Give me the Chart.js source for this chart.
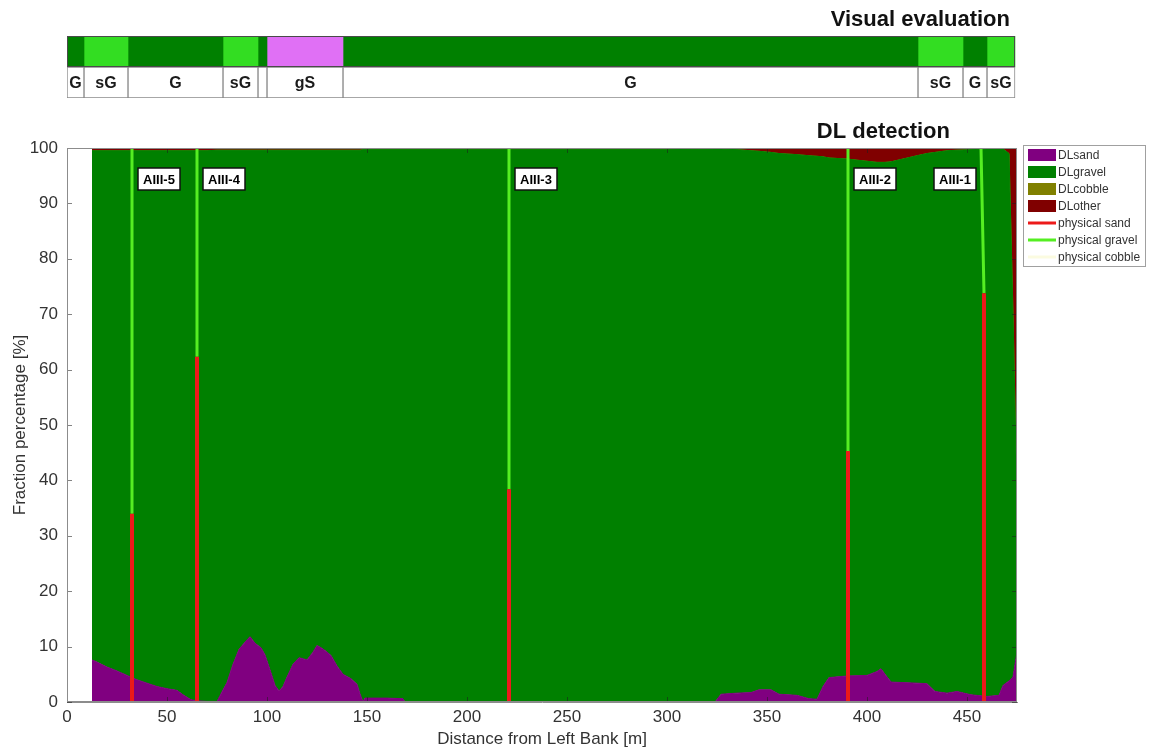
<!DOCTYPE html>
<html>
<head>
<meta charset="utf-8">
<title>Bed material classes across the section</title>
<script src="https://cdn.jsdelivr.net/npm/chart.js@4.4.0/dist/chart.umd.min.js"></script>
<style>
  html, body { margin: 0; padding: 0; background: #fff; }
  #wrap { position: relative; width: 1150px; height: 753px; }
  #visual { position: absolute; left: 0; top: 0; }
  #detect { position: absolute; left: 0; top: 105px; }
</style>
</head>
<body>
<div id="wrap">
  <canvas id="visual" width="1150" height="105"></canvas>
  <canvas id="detect" width="1150" height="648"></canvas>
</div>
<script>
/**
 * Visual classes along the section (top strip) and the
 * DL fractions with the physical samples (main plot)
 */

// visual evaluation, segment bounds in m from the left bank
var visStart = [0, 8.5, 30.5, 78, 95.5, 100, 138, 425.5, 448, 460];
var visEnd = [8.5, 30.5, 78, 95.5, 100, 138, 425.5, 448, 460, 474];
var visClass = ['G', 'sG', 'G', 'sG', 'G', 'gS', 'G', 'sG', 'G', 'sG'];

// DL detection along the section
var distance = [12.5, 15, 20, 25, 30, 35, 40, 45, 50, 55,
  58, 62, 66, 70, 75, 77, 80, 83, 86, 89,
  91.5, 94, 97, 99, 101.5, 104, 106, 108, 110, 113,
  116, 120, 123, 125, 127, 129, 132, 135, 138, 142,
  145, 146.5, 148, 149, 160, 168, 169, 200, 250, 300,
  324, 327, 335, 342, 346, 352, 356, 365, 371, 375,
  378, 381, 390, 400, 405, 407, 409, 412, 425, 430,
  434, 440, 445, 452, 460, 466, 468, 471, 473, 475];

var sandPct = [7.6, 7.2, 6.3, 5.6, 4.8, 4.0, 3.4, 2.8, 2.4, 2.1,
  1.3, 0.4, 0.2, 0.1, 0.1, 1.5, 3.5, 6.8, 9.5, 10.8,
  11.8, 10.6, 9.8, 8.5, 5.8, 3.0, 2.0, 2.8, 4.5, 6.8,
  8.0, 7.6, 9.0, 10.2, 9.8, 9.3, 8.4, 6.5, 5.0, 4.2,
  3.2, 1.5, 0, 0.7, 0.7, 0.6, 0, 0, 0, 0,
  0, 1.4, 1.6, 1.7, 2.2, 2.2, 1.4, 1.2, 0.6, 0.5,
  2.8, 4.4, 4.7, 4.8, 5.5, 6.0, 5.0, 3.6, 3.4, 3.3,
  1.9, 1.6, 1.9, 1.3, 1.0, 1.2, 3.0, 3.8, 4.5, 9.0];

var cobblePct = [0, 0, 0, 0, 0, 0, 0, 0, 0, 0,
  0, 0, 0, 0, 0, 0, 0, 0, 0, 0,
  0, 0, 0, 0, 0, 0, 0, 0, 0, 0,
  0, 0, 0, 0, 0, 0, 0, 0, 0, 0,
  0, 0, 0, 0, 0, 0, 0, 0, 0, 0,
  0, 0, 0, 0, 0, 0, 0, 0, 0, 0,
  0, 0, 0, 0, 0, 0, 0, 0, 0, 0,
  0, 0, 0, 0, 0, 0, 0, 0, 0, 0];

var otherPct = [0.5, 0.5, 0.5, 0.5, 0.5, 0.5, 0.5, 0.5, 0.5, 0.5,
  0.5, 0.5, 0.5, 0.5, 0.4, 0.4, 0.4, 0.4, 0.4, 0.4,
  0.4, 0.4, 0.4, 0.4, 0.4, 0.4, 0.4, 0.4, 0.4, 0.4,
  0.4, 0.4, 0.4, 0.4, 0.4, 0.4, 0.4, 0.4, 0.4, 0.4,
  0.4, 0.4, 0.3, 0.3, 0.3, 0.3, 0.3, 0.3, 0.3, 0.3,
  0.2, 0.2, 0.3, 0.5, 0.6, 0.8, 1.0, 1.2, 1.4, 1.5,
  1.6, 1.8, 2.0, 2.4, 2.6, 2.6, 2.6, 2.5, 1.4, 1.0,
  0.8, 0.5, 0.4, 0.3, 0.2, 0.2, 0.2, 1.0, 30, 64];

// gravel is whatever the other classes leave
var gravelPct = distance.map(function(d, i) {
  return 100 - sandPct[i] - cobblePct[i] - otherPct[i];
});

// physical samples
var siteNames = ['AIII-5', 'AIII-4', 'AIII-3', 'AIII-2', 'AIII-1'];
var siteX = [32.5, 65, 221, 390.5, 458.5];
var siteTopX = [32.5, 65, 221, 390.5, 457];
var physSand = [34, 62.3, 38.4, 45.3, 73.8];
var physGravel = [66, 37.7, 61.6, 54.7, 26.2];
var physCobble = [0, 0, 0, 0, 0];

var FONT = '"Liberation Sans", Arial, Helvetica, sans-serif';
Chart.defaults.font.family = FONT;
Chart.defaults.color = '#333';

var classColours = { 'G': '#008000', 'sG': '#33dd22', 'gS': '#e070f5' };

/* ---------- top strip ---------- */

var classText = {
  id: 'classText',
  afterDatasetsDraw: function(chart) {
    var ctx = chart.ctx;
    var a = chart.chartArea;
    var n = chart.data.datasets.length;
    ctx.save();

    // frame round the coloured row
    var first = chart.getDatasetMeta(0).data[0];
    var last = chart.getDatasetMeta(n - 1).data[0];
    ctx.strokeStyle = '#4a4a4a';
    ctx.lineWidth = 1;
    ctx.strokeRect(Math.round(first.base) + 0.5, Math.round(first.y - first.height / 2) + 0.5,
      Math.round(last.x - first.base) - 1, Math.round(first.height) - 1);

    ctx.font = 'bold 16px ' + FONT;
    ctx.fillStyle = '#1a1a1a';
    ctx.textAlign = 'center';
    ctx.textBaseline = 'middle';
    chart.data.datasets.forEach(function(ds, i) {
      var cell = chart.getDatasetMeta(i).data[1];
      var w = Math.abs(cell.x - cell.base);
      if (ctx.measureText(ds.label).width + 4 < w) {
        ctx.fillText(ds.label, (cell.x + cell.base) / 2, cell.y + 1);
      }
    });

    ctx.font = 'bold 22px ' + FONT;
    ctx.fillStyle = '#111';
    ctx.textAlign = 'right';
    ctx.fillText('Visual evaluation', a.right - 7, a.top - 16);
    ctx.restore();
  }
};

var visDatasets = visStart.map(function(s, i) {
  return {
    label: visClass[i],
    data: [[s, visEnd[i]], [s, visEnd[i]]],
    backgroundColor: [classColours[visClass[i]], '#ffffff'],
    borderColor: ['rgba(0,0,0,0)', '#8a8a8a'],
    borderWidth: [0, 1],
    borderSkipped: false,
    grouped: false,
    barPercentage: 1,
    categoryPercentage: 1
  };
});

new Chart(document.getElementById('visual'), {
  type: 'bar',
  data: { labels: ['colour', 'class'], datasets: visDatasets },
  options: {
    indexAxis: 'y',
    responsive: false,
    animation: false,
    events: [],
    layout: { padding: { left: 67, right: 133, top: 36, bottom: 7 } },
    plugins: { legend: { display: false }, tooltip: { enabled: false } },
    scales: {
      x: { type: 'linear', min: 0, max: 475, display: false },
      y: { type: 'category', display: false }
    }
  },
  plugins: [classText]
});

/* ---------- DL detection ---------- */

function pts(ys) {
  return distance.map(function(d, i) { return { x: d, y: ys[i] }; });
}

// one vertical stroke per sample site, broken with nulls
function siteLines(lower, upper, xLow, xHigh) {
  var out = [];
  siteNames.forEach(function(n, i) {
    out.push({ x: xLow[i], y: lower[i] });
    out.push({ x: xHigh[i], y: upper[i] });
    out.push({ x: xHigh[i], y: null });
  });
  return out;
}

var zeroAtSite = physSand.map(function() { return 0; });
var gravelTop = physSand.map(function(s, i) { return s + physGravel[i]; });
var cobbleTop = gravelTop.map(function(g, i) { return g + physCobble[i]; });

var boxTicks = {
  id: 'boxTicks',
  afterDatasetsDraw: function(chart) {
    var a = chart.chartArea, ctx = chart.ctx;
    var xs = chart.scales.x, ys = chart.scales.y;
    ctx.save();
    ctx.strokeStyle = 'rgba(30,30,30,0.55)';
    ctx.lineWidth = 1;
    ctx.beginPath();
    xs.ticks.forEach(function(t) {
      var px = Math.round(xs.getPixelForValue(t.value)) + 0.5;
      ctx.moveTo(px, a.bottom); ctx.lineTo(px, a.bottom - 5);
      ctx.moveTo(px, a.top); ctx.lineTo(px, a.top + 5);
    });
    ys.ticks.forEach(function(t) {
      var py = Math.round(ys.getPixelForValue(t.value)) + 0.5;
      ctx.moveTo(a.left, py); ctx.lineTo(a.left + 5, py);
      ctx.moveTo(a.right, py); ctx.lineTo(a.right - 5, py);
    });
    ctx.stroke();
    ctx.strokeStyle = '#8c8c8c';
    ctx.strokeRect(Math.round(a.left) + 0.5, Math.round(a.top) + 0.5,
      Math.round(a.width) - 1, Math.round(a.height) - 1);
    ctx.restore();
  }
};

var siteTags = {
  id: 'siteTags',
  afterDatasetsDraw: function(chart) {
    var a = chart.chartArea, ctx = chart.ctx, xs = chart.scales.x;
    ctx.save();
    ctx.font = 'bold 13px ' + FONT;
    ctx.textAlign = 'center';
    ctx.textBaseline = 'middle';
    siteNames.forEach(function(name, i) {
      var lx = xs.getPixelForValue(siteTopX[i]);
      var w = Math.round(ctx.measureText(name).width + 10), h = 22;
      var left = Math.round(lx + 6);
      if (left + w > a.right - 4) left = Math.round(lx - 5 - w);
      var top = Math.round(a.top + 20);
      ctx.fillStyle = '#fff';
      ctx.fillRect(left, top, w, h);
      ctx.strokeStyle = '#111';
      ctx.lineWidth = 1.5;
      ctx.strokeRect(left, top, w, h);
      ctx.fillStyle = '#000';
      ctx.fillText(name, left + w / 2, top + h / 2 + 1);
    });

    ctx.font = 'bold 22px ' + FONT;
    ctx.textAlign = 'right';
    ctx.fillStyle = '#111';
    ctx.fillText('DL detection', a.right - 67, a.top - 16);
    ctx.restore();
  }
};

// legend in a framed box to the right of the plot
var keyBox = {
  id: 'keyBox',
  afterDraw: function(chart) {
    var a = chart.chartArea, ctx = chart.ctx;
    var dsets = chart.data.datasets;
    var left = a.right + 6, top = a.top - 3, rowH = 17;
    ctx.save();
    ctx.fillStyle = '#fff';
    ctx.fillRect(left, top, 122, dsets.length * rowH + 2);
    ctx.strokeStyle = '#a0a0a0';
    ctx.lineWidth = 1;
    ctx.strokeRect(left + 0.5, top + 0.5, 122, dsets.length * rowH + 2);
    ctx.font = '12px ' + FONT;
    ctx.textBaseline = 'middle';
    ctx.textAlign = 'left';
    dsets.forEach(function(ds, i) {
      var cy = top + 10 + i * rowH;
      if (ds.pointStyle === 'line') {
        ctx.strokeStyle = ds.borderColor;
        ctx.lineWidth = 3;
        ctx.beginPath();
        ctx.moveTo(left + 5, cy); ctx.lineTo(left + 33, cy);
        ctx.stroke();
      } else {
        ctx.fillStyle = ds.backgroundColor;
        ctx.fillRect(left + 5, cy - 6, 28, 12);
      }
      ctx.fillStyle = '#333';
      ctx.fillText(ds.label, left + 35, cy + 1);
    });
    ctx.restore();
  }
};

function area(label, ys, colour, fill) {
  return {
    label: label,
    data: pts(ys),
    backgroundColor: colour,
    borderColor: colour,
    borderWidth: 1,
    pointRadius: 0,
    pointStyle: 'rect',
    fill: fill,
    yAxisID: 'y'
  };
}

function sample(label, data, colour, width) {
  return {
    label: label,
    data: data,
    borderColor: colour,
    backgroundColor: colour,
    borderWidth: width,
    borderCapStyle: 'butt',
    pointRadius: 0,
    pointStyle: 'line',
    fill: false,
    spanGaps: false,
    yAxisID: 'yp',
    order: -1
  };
}

new Chart(document.getElementById('detect'), {
  type: 'line',
  data: {
    datasets: [
      area('DLsand', sandPct, '#800080', 'origin'),
      area('DLgravel', gravelPct, '#008000', '-1'),
      area('DLcobble', cobblePct, '#808000', '-1'),
      area('DLother', otherPct, '#800000', '-1'),
      sample('physical sand', siteLines(zeroAtSite, physSand, siteX, siteX), '#ec1a1a', 4),
      sample('physical gravel', siteLines(physSand, gravelTop, siteX, siteTopX), '#55ee22', 3),
      sample('physical cobble', siteLines(gravelTop, cobbleTop, siteTopX, siteTopX), '#fbfbe0', 3)
    ]
  },
  options: {
    responsive: false,
    animation: false,
    events: [],
    layout: { padding: { left: 0, right: 133, top: 43, bottom: 0 } },
    plugins: { legend: { display: false }, tooltip: { enabled: false } },
    scales: {
      x: {
        type: 'linear',
        min: 0,
        max: 475,
        grid: { display: false, drawTicks: false },
        border: { display: true, color: '#8c8c8c' },
        ticks: { stepSize: 50, includeBounds: false, padding: 5, font: { size: 17 }, color: '#333', maxRotation: 0 },
        title: { display: true, text: 'Distance from Left Bank [m]', font: { size: 17 }, color: '#333', padding: { top: 0, bottom: 3 } },
        afterFit: function(scale) { scale.height = 51; }
      },
      y: {
        stacked: true,
        min: 0,
        max: 100,
        grid: { display: false, drawTicks: false },
        border: { display: true, color: '#8c8c8c' },
        ticks: { stepSize: 10, padding: 9, font: { size: 17 }, color: '#333' },
        title: { display: true, text: 'Fraction percentage [%]', font: { size: 17 }, color: '#333', padding: { top: 10, bottom: 0 } },
        afterFit: function(scale) { scale.width = 67; }
      },
      yp: { display: false, min: 0, max: 100 }
    }
  },
  plugins: [boxTicks, siteTags, keyBox]
});
</script>
</body>
</html>
